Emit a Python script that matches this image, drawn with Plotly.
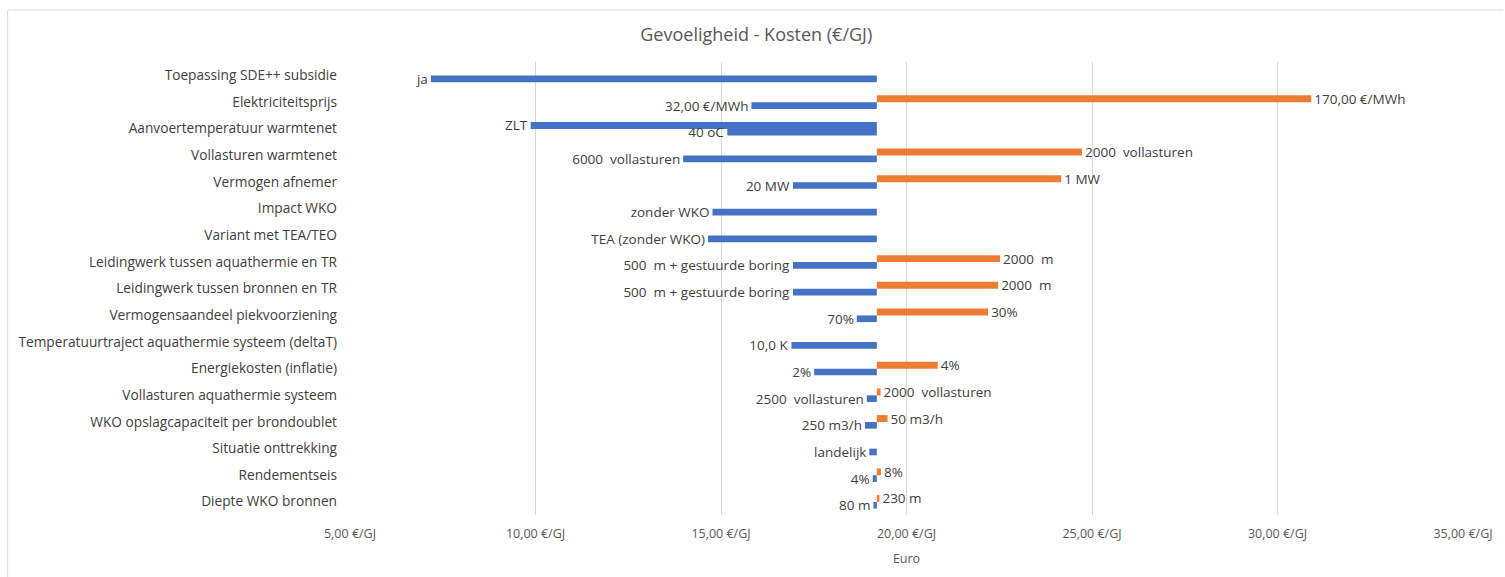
import plotly.graph_objects as go

categories = [
    "Toepassing SDE++ subsidie",
    "Elektriciteitsprijs",
    "Aanvoertemperatuur warmtenet",
    "Vollasturen warmtenet",
    "Vermogen afnemer",
    "Impact WKO",
    "Variant met TEA/TEO",
    "Leidingwerk tussen aquathermie en TR",
    "Leidingwerk tussen bronnen en TR",
    "Vermogensaandeel piekvoorziening",
    "Temperatuurtraject aquathermie systeem (deltaT)",
    "Energiekosten (inflatie)",
    "Vollasturen aquathermie systeem",
    "WKO opslagcapaciteit per brondoublet",
    "Situatie onttrekking",
    "Rendementseis",
    "Diepte WKO bronnen",
]

base_cost = 19.2

# upper bar of each category (value in €/GJ and its label)
upper_values = [None, 30.91, 9.87, 24.73, 24.17, None, None, 22.52, 22.47, 22.20,
                None, 20.84, 19.30, 19.49, None, 19.31, 19.27]
upper_labels = ["", "170,00 €/MWh", "ZLT", "2000  vollasturen", "1 MW", "", "",
                "2000  m", "2000  m", "30%", "", "4%", "2000  vollasturen",
                "50 m3/h", "", "8%", "230 m"]

# lower bar of each category
lower_values = [7.18, 15.82, 15.17, 13.98, 16.94, 14.77, 14.65, 16.94, 16.94, 18.66,
                16.90, 17.51, 18.93, 18.88, 19.00, 19.09, 19.11]
lower_labels = ["ja", "32,00 €/MWh", "40 oC", "6000  vollasturen", "20 MW",
                "zonder WKO", "TEA (zonder WKO)", "500  m + gestuurde boring",
                "500  m + gestuurde boring", "70%", "10,0 K", "2%",
                "2500  vollasturen", "250 m3/h", "landelijk", "4%", "80 m"]

x_ticks = [5, 10, 15, 20, 25, 30, 35]
x_tick_text = [f"{v:.2f}".replace(".", ",") + " €/GJ" for v in x_ticks]

BLUE = "#4472C4"
ORANGE = "#ED7D31"
TXT = "#404040"
FONT = "Open Sans"


def deltas(vals):
    return [None if v is None else v - base_cost for v in vals]


def colors(vals):
    return [BLUE if (v is None or v < base_cost) else ORANGE for v in vals]


fig = go.Figure()
fig.add_trace(go.Bar(
    y=categories, x=deltas(upper_values), base=base_cost, orientation="h",
    offset=-0.25, width=0.26, marker=dict(color=colors(upper_values), line=dict(width=0)),
    text=upper_labels, textposition="outside", cliponaxis=False, constraintext="none",
    textfont=dict(size=13.5, color=TXT, family=FONT), showlegend=False,
))
fig.add_trace(go.Bar(
    y=categories, x=deltas(lower_values), base=base_cost, orientation="h",
    offset=0.01, width=0.25, marker=dict(color=colors(lower_values), line=dict(width=0)),
    text=lower_labels, textposition="outside", cliponaxis=False, constraintext="none",
    textfont=dict(size=13.5, color=TXT, family=FONT), showlegend=False,
))

fig.update_layout(
    width=1505, height=577,
    margin=dict(l=350, r=40, t=62, b=62),
    paper_bgcolor="white", plot_bgcolor="white",
    barmode="overlay",
    font=dict(family=FONT, color="#595959", size=13),
    title=dict(text="Gevoeligheid - Kosten (€/GJ)", x=0.5025, xanchor="center",
               y=1 - 35 / 577, yanchor="middle",
               font=dict(size=18, color="#595959", family=FONT)),
    xaxis=dict(range=[5, 35], tickmode="array", tickvals=x_ticks, ticktext=x_tick_text,
               showgrid=True, gridcolor="#D9D9D9", gridwidth=1, zeroline=False,
               showline=False, ticks="", ticklabelstandoff=9,
               tickfont=dict(size=12.5, color="#595959", family=FONT),
               title=dict(text="Euro", standoff=13, font=dict(size=12.5, color="#595959", family=FONT))),
    yaxis=dict(type="category", range=[16.5, -0.5], showgrid=False, zeroline=False,
               showline=False, ticks="", ticklabelstandoff=12,
               tickfont=dict(size=13.7, color="#404040", family=FONT)),
    shapes=[
        dict(type="line", xref="paper", yref="paper",
             x0=(7 - 350) / 1115, x1=(1505 - 350) / 1115,
             y0=(577 - 62 - 10) / 453, y1=(577 - 62 - 10) / 453,
             line=dict(color="#D9D9D9", width=1)),
        dict(type="line", xref="paper", yref="paper",
             x0=(7 - 350) / 1115, x1=(7 - 350) / 1115,
             y0=(577 - 62 - 10) / 453, y1=-62 / 453,
             line=dict(color="#D9D9D9", width=1)),
    ],
)

fig.write_html("out.html")
